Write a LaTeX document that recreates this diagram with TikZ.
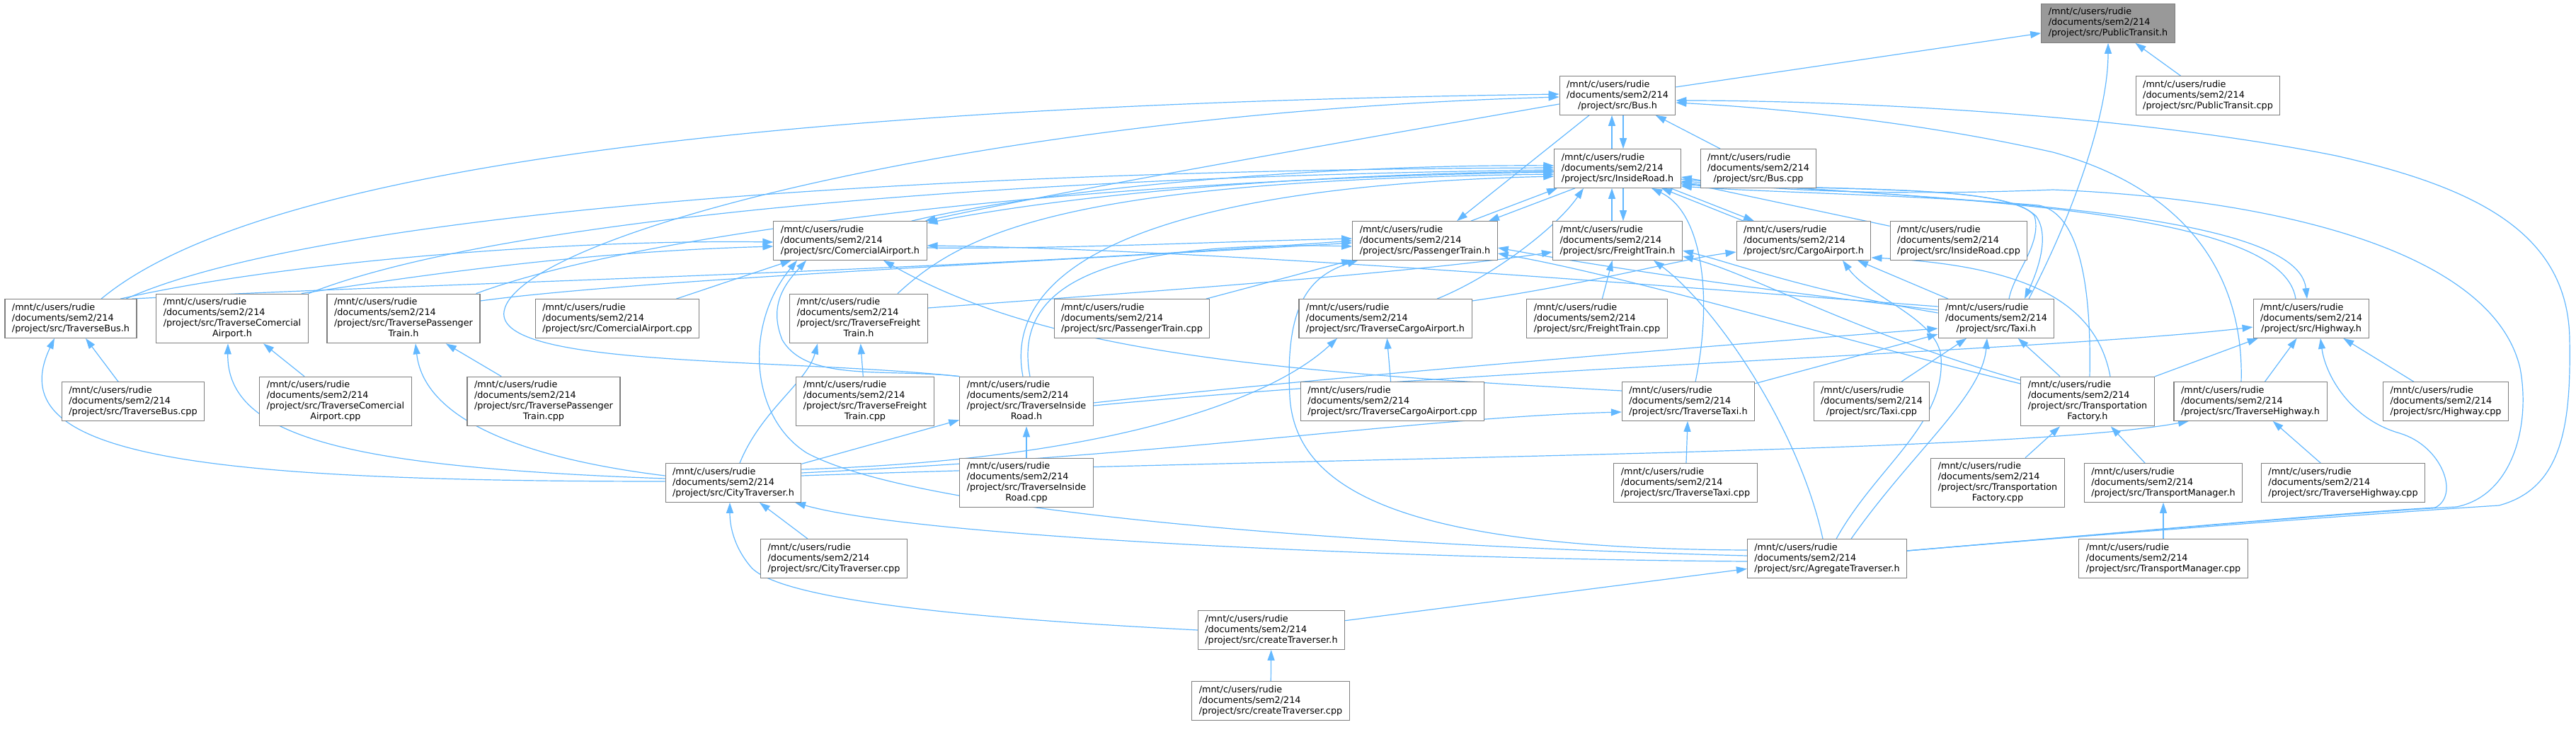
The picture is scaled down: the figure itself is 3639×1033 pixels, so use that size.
\documentclass[tikz,border=0pt]{standalone}
\usepackage{fontspec}
\setmainfont{DejaVu Sans}
\usepackage{tikz}
\usetikzlibrary{arrows.meta,backgrounds}
\usepackage{xcolor}

\definecolor{edgeblue}{HTML}{63B8FF}
\definecolor{boxgray}{HTML}{7F7F7F}
\definecolor{rootgray}{HTML}{999999}

% three and four line file labels, last line centred
\newcommand{\flab}[1]{\begin{tabular}{@{}l@{}}/mnt/c/users/rudie\\/documents/sem2/214\\\multicolumn{1}{@{}c@{}}{#1}\end{tabular}}
\newcommand{\flabb}[2]{\begin{tabular}{@{}l@{}}/mnt/c/users/rudie\\/documents/sem2/214\\#1\\\multicolumn{1}{@{}c@{}}{#2}\end{tabular}}

\begin{document}
\begin{tikzpicture}[x=1pt, y=-1pt,
	file/.style={draw=boxgray, line width=1.1pt, fill=white, inner xsep=10pt, inner ysep=4.8pt,
		font=\fontsize{12.8}{15}\selectfont},
	root/.style={file, fill=rootgray},
	dep/.style={draw=edgeblue, line width=1.2pt, -{Triangle[length=15pt,width=10pt]}}]

		% === figure bounds ===
		\useasboundingbox (0,0) rectangle (3639,1033);

		% === Nodes, row by row ===
		\node[root] (pt)     at (2978,33)  {\flab{/project/src/PublicTransit.h}};
		\node[file] (bus)    at (2285,135) {\flab{/project/src/Bus.h}};
		\node[file] (ptcpp)  at (3119,135) {\flab{/project/src/PublicTransit.cpp}};
		\node[file] (ir)     at (2285,238) {\flab{/project/src/InsideRoad.h}};
		\node[file] (buscpp) at (2484,238) {\flab{/project/src/Bus.cpp}};
		\node[file] (ca)     at (1201,340) {\flab{/project/src/ComercialAirport.h}};
		\node[file] (ptr)    at (2013,340) {\flab{/project/src/PassengerTrain.h}};
		\node[file] (ft)     at (2285,340) {\flab{/project/src/FreightTrain.h}};
		\node[file] (cg)     at (2548,340) {\flab{/project/src/CargoAirport.h}};
		\node[file] (ircpp)  at (2767,340) {\flab{/project/src/InsideRoad.cpp}};

		\node[file] (tbus)   at (100,450)  {\flab{/project/src/TraverseBus.h}};
		\node[file] (tca)    at (328,450)  {\flabb{/project/src/TraverseComercial}{Airport.h}};
		\node[file] (tpt)    at (570,450)  {\flabb{/project/src/TraversePassenger}{Train.h}};
		\node[file] (cacpp)  at (872,450)  {\flab{/project/src/ComercialAirport.cpp}};
		\node[file] (tft)    at (1213,450) {\flabb{/project/src/TraverseFreight}{Train.h}};
		\node[file] (ptrcpp) at (1599,450) {\flab{/project/src/PassengerTrain.cpp}};
		\node[file] (tcg)    at (1957,450) {\flab{/project/src/TraverseCargoAirport.h}};
		\node[file] (ftcpp)  at (2256,450) {\flab{/project/src/FreightTrain.cpp}};
		\node[file] (taxi)   at (2820,450) {\flab{/project/src/Taxi.h}};
		\node[file] (hw)     at (3265,450) {\flab{/project/src/Highway.h}};

		\node[file] (tbuscpp) at (188,567)  {\flab{/project/src/TraverseBus.cpp}};
		\node[file] (tcacpp)  at (474,567)  {\flabb{/project/src/TraverseComercial}{Airport.cpp}};
		\node[file] (tptcpp)  at (768,567)  {\flabb{/project/src/TraversePassenger}{Train.cpp}};
		\node[file] (tftcpp)  at (1222,567) {\flabb{/project/src/TraverseFreight}{Train.cpp}};
		\node[file] (tir)     at (1450,567) {\flabb{/project/src/TraverseInside}{Road.h}};
		\node[file] (tcgcpp)  at (1967,567) {\flab{/project/src/TraverseCargoAirport.cpp}};
		\node[file] (ttaxi)   at (2385,567) {\flab{/project/src/TraverseTaxi.h}};
		\node[file] (taxicpp) at (2644,567) {\flab{/project/src/Taxi.cpp}};
		\node[file] (tf)      at (2949,567) {\flabb{/project/src/Transportation}{Factory.h}};
		\node[file] (thw)     at (3179,567) {\flab{/project/src/TraverseHighway.h}};
		\node[file] (hwcpp)   at (3455,567) {\flab{/project/src/Highway.cpp}};

		\node[file] (city)     at (1036,682) {\flab{/project/src/CityTraverser.h}};
		\node[file] (tircpp)   at (1450,682) {\flabb{/project/src/TraverseInside}{Road.cpp}};
		\node[file] (ttaxicpp) at (2381,682) {\flab{/project/src/TraverseTaxi.cpp}};
		\node[file] (tfcpp)    at (2822,682) {\flabb{/project/src/Transportation}{Factory.cpp}};
		\node[file] (tm)       at (3056,682) {\flab{/project/src/TransportManager.h}};
		\node[file] (thwcpp)   at (3310,682) {\flab{/project/src/TraverseHighway.cpp}};

		\node[file] (citycpp) at (1178,789) {\flab{/project/src/CityTraverser.cpp}};
		\node[file] (agg)     at (2581,789) {\flab{/project/src/AgregateTraverser.h}};
		\node[file] (tmcpp)   at (3056,789) {\flab{/project/src/TransportManager.cpp}};
		\node[file] (ct)      at (1796,890) {\flab{/project/src/createTraverser.h}};
		\node[file] (ctcpp)   at (1795,990) {\flab{/project/src/createTraverser.cpp}};

		\begin{scope}[on background layer]
		% === straight includes ===
		\foreach \a/\b in {bus/pt, ptcpp/pt, buscpp/bus, ircpp/ir, tbuscpp/tbus, tcacpp/tca,
				tptcpp/tpt, cacpp/ca, tftcpp/tft, ptrcpp/ptr, tcgcpp/tcg, ftcpp/ft, tircpp/tir,
				ttaxicpp/ttaxi, taxicpp/taxi, tf/taxi, ttaxi/taxi, tf/hw, thw/hw, hwcpp/hw,
				tfcpp/tf, tm/tf, tmcpp/tm, thwcpp/thw, city/tir, citycpp/city, ct/agg, ctcpp/ct}
			\draw[dep] (\a) -- (\b);

		% === top of the graph ===
		\draw[dep] ([xshift=46pt]taxi.north) .. controls (2930,300) and (2978,160) .. (pt.south);
		\draw[dep] ([xshift=-8pt]ir.north) -- ([xshift=-8pt]bus.south);
		\draw[dep] ([xshift=8pt]bus.south) -- ([xshift=8pt]ir.north);
		\draw[dep] ([xshift=-8pt]ft.north) -- ([xshift=-8pt]ir.south);
		\draw[dep] ([xshift=8pt]ir.south) -- ([xshift=8pt]ft.north);
		\draw[dep] ([xshift=-40pt]bus.south) -- ([xshift=45pt]ptr.north);
		\draw[dep] ([xshift=-60pt]ir.south) -- ([xshift=90pt]ptr.north);
		\draw[dep] ([xshift=65pt]ptr.north) -- ([xshift=-85pt]ir.south);
		\draw[dep] ([xshift=75pt]ir.south) -- ([xshift=-70pt]cg.north);
		\draw[dep] ([xshift=-85pt]cg.north) -- ([xshift=62pt]ir.south);
		\draw[dep] ([xshift=-68pt]taxi.north) -- ([xshift=76pt]cg.south);

		% === InsideRoad.h to the right ===
		\draw[dep] ([yshift=-21pt]ir.east) .. controls (2650,270) and (2830,262) .. (2876,305)
			.. controls (2898,335) and (2875,390) .. ([xshift=40pt]taxi.north);
		\draw[dep] ([xshift=18pt]taxi.north) .. controls (2845,385) and (2885,345) .. (2874,305)
			.. controls (2845,265) and (2650,268) .. ([yshift=-23pt]ir.east);
		\draw[dep] ([yshift=-15pt]ir.east) .. controls (2700,282) and (3245,290) .. ([xshift=-6pt]hw.north);
		\draw[dep] ([xshift=-22pt]hw.north) .. controls (3225,300) and (2800,282) .. ([yshift=-18pt]ir.east);
		\draw[dep] ([xshift=3pt]tf.north) .. controls (2955,380) and (2930,300) .. (2880,290)
			.. controls (2700,275) and (2500,272) .. ([yshift=-25pt]ir.east);

		% === AgregateTraverser.h round the right edge ===
		\draw[dep] ([yshift=11pt]agg.east) .. controls (3000,752) and (3400,722) .. (3530,714)
			.. controls (3620,690) and (3632,600) .. (3630,480)
			.. controls (3628,330) and (3500,265) .. (3300,220)
			.. controls (3000,160) and (2600,142) .. ([yshift=-7pt]bus.east);
		\draw[dep] ([yshift=11pt]agg.east) .. controls (3000,752) and (3350,722) .. (3470,716)
			.. controls (3550,700) and (3575,600) .. (3560,520)
			.. controls (3520,350) and (3200,280) .. (2900,268)
			.. controls (2700,276) and (2500,272) .. ([yshift=-12pt]ir.east);
		\draw[dep] ([yshift=11pt]agg.east) .. controls (3000,752) and (3300,725) .. (3440,717)
			.. controls (3475,700) and (3450,630) .. (3390,612)
			.. controls (3320,592) and (3285,530) .. ([xshift=13pt]hw.south);
		\draw[dep] ([xshift=-13pt]thw.north) .. controls (3170,400) and (3100,270) .. (2900,215)
			.. controls (2700,170) and (2500,152) .. ([yshift=-10pt]bus.east);

		% === Bus.h from the left ===
		\draw[dep] ([xshift=43pt]tbus.north) .. controls (350,250) and (1000,150) .. ([yshift=2pt]bus.west);
		\draw[dep] (tir.north west) .. controls (1100,505) and (700,520) .. (712,440)
			.. controls (730,330) and (1400,160) .. ([yshift=-2pt]bus.west);

		% === ComercialAirport.h ===
		\draw[dep] ([yshift=-12pt]bus.west) .. controls (1900,200) and (1500,270) .. ([xshift=-3pt]ca.north east);
		\draw[dep] ([yshift=-4pt]ir.west) .. controls (1900,245) and (1550,268) .. ([yshift=-3pt]ca.north east);
		\draw[dep] ([xshift=-22pt]ca.north east) .. controls (1500,262) and (1900,232) .. ([yshift=4pt]ir.west);
		\draw[dep] ([xshift=70pt]tbus.north) .. controls (400,370) and (800,338) .. ([yshift=-2pt]ca.west);
		\draw[dep] ([xshift=-10pt]tca.north east) .. controls (650,380) and (850,355) .. ([yshift=-8pt]ca.west);
		\draw[dep] ([yshift=17pt]taxi.west) .. controls (2300,400) and (1700,352) .. ([yshift=-7pt]ca.east);
		\draw[dep] (tir.north west) .. controls (1250,520) and (1140,540) .. (1105,480)
			.. controls (1085,430) and (1110,400) .. ([xshift=-62pt]ca.south);
		\draw[dep] ([yshift=15pt]ttaxi.west) .. controls (1800,525) and (1480,500) .. ([xshift=47pt]ca.south);
		\draw[dep] ([yshift=4pt]agg.west) .. controls (1900,770) and (1300,725) .. (1140,640)
			.. controls (1060,590) and (1050,460) .. ([xshift=-75pt]ca.south);

		% === PassengerTrain.h ===
		\draw[dep] ([yshift=-10pt]ca.east) .. controls (1500,352) and (1700,342) .. ([yshift=3pt]ptr.west);
		\draw[dep] ([xshift=86pt]tbus.north) .. controls (600,400) and (1300,385) .. (ptr.west);
		\draw[dep] ([yshift=25pt]tpt.east) .. controls (900,395) and (1500,368) .. ([yshift=-3pt]ptr.west);
		\draw[dep] ([xshift=5pt]tir.north) .. controls (1430,400) and (1560,340) .. ([yshift=-8pt]ptr.west);
		\draw[dep] ([yshift=12pt]taxi.west) .. controls (2400,400) and (2200,365) .. ([yshift=-10pt]ptr.east);
		\draw[dep] ([yshift=25pt]tf.west) .. controls (2600,480) and (2300,390) .. ([yshift=-18pt]ptr.east);
		\draw[dep] ([yshift=12pt]agg.west) .. controls (2000,775) and (1830,700) .. (1822,560)
			.. controls (1815,430) and (1850,390) .. ([xshift=8pt]ptr.south west);

		% === FreightTrain.h and CargoAirport.h ===
		\draw[dep] ([yshift=15pt]tft.east) .. controls (1650,410) and (2000,385) .. ([yshift=-16pt]ft.west);
		\draw[dep] ([yshift=8pt]taxi.west) .. controls (2550,410) and (2450,372) .. ([yshift=-14pt]ft.east);
		\draw[dep] ([yshift=30pt]tf.west) .. controls (2620,470) and (2470,385) .. ([yshift=-22pt]ft.east);
		\draw[dep] ([xshift=-6pt]agg.north) .. controls (2540,600) and (2420,430) .. ([xshift=51pt]ft.south);
		\draw[dep] ([yshift=25pt]tcg.east) .. controls (2250,400) and (2380,365) .. ([yshift=-16pt]cg.west);
		\draw[dep] ([xshift=32pt]tf.north) .. controls (2960,420) and (2850,375) .. ([yshift=4pt]cg.south east);
		\draw[dep] ([xshift=13pt]agg.north) .. controls (2650,660) and (2748,600) .. (2742,505)
			.. controls (2738,450) and (2640,420) .. ([xshift=55pt]cg.south);
		\draw[dep] ([xshift=34pt]agg.north) .. controls (2700,640) and (2800,560) .. ([xshift=-13pt]taxi.south);

		% === InsideRoad.h from below and the left ===
		\draw[dep] ([xshift=73pt]tcg.north) .. controls (2110,390) and (2200,320) .. ([xshift=-48pt]ir.south);
		\draw[dep] ([xshift=10pt]ttaxi.north) .. controls (2420,420) and (2405,300) .. ([xshift=48pt]ir.south);
		\draw[dep] ([xshift=78pt]tbus.north) .. controls (450,300) and (1300,240) .. ([yshift=1pt]ir.west);
		\draw[dep] (tca.north east) .. controls (700,310) and (1400,250) .. ([yshift=-2pt]ir.west);
		\draw[dep] ([xshift=-6pt]tpt.north east) .. controls (900,330) and (1500,255) .. ([yshift=-5pt]ir.west);
		\draw[dep] ([xshift=55pt]tft.north) .. controls (1360,330) and (1500,255) .. ([yshift=-8pt]ir.west);
		\draw[dep] ([xshift=-5pt]tir.north) .. controls (1420,400) and (1560,265) .. ([yshift=-11pt]ir.west);

		% === Taxi.h and Highway.h from TraverseInsideRoad.h ===
		\draw[dep] ([yshift=-2pt]tir.east) .. controls (1900,530) and (2400,490) .. ([yshift=-14pt]taxi.west);
		\draw[dep] ([yshift=-6pt]tir.east) .. controls (2100,520) and (2900,495) .. ([yshift=-12pt]hw.west);

		% === CityTraverser.h to the traversers ===
		\draw[dep] ([yshift=2pt]city.west) .. controls (250,680) and (0,640) .. ([xshift=-23pt]tbus.south);
		\draw[dep] ([yshift=6pt]city.west) .. controls (500,660) and (320,620) .. ([xshift=-6pt]tca.south);
		\draw[dep] ([yshift=10pt]city.west) .. controls (760,650) and (600,600) .. ([xshift=17pt]tpt.south);
		\draw[dep] ([xshift=9pt]city.north) .. controls (1075,580) and (1140,540) .. ([xshift=-58pt]tft.south);
		\draw[dep] ([yshift=19pt]city.east) .. controls (1550,650) and (1790,570) .. ([xshift=-68pt]tcg.south);
		\draw[dep] ([yshift=14pt]city.east) .. controls (1700,640) and (2000,590) .. ([yshift=-15pt]ttaxi.west);
		\draw[dep] ([yshift=10pt]city.east) .. controls (1900,645) and (2850,640) .. ([xshift=-87pt]thw.south);

		% === CityTraverser.h from below ===
		\draw[dep] (ct.west) .. controls (1400,875) and (1100,850) .. (1060,800)
			.. controls (1035,770) and (1031,740) .. ([xshift=-5pt]city.south);
		\draw[dep] ([yshift=-4pt]agg.west) .. controls (2000,790) and (1300,760) .. ([xshift=87pt]city.south);
		\end{scope}
\end{tikzpicture}
\end{document}
